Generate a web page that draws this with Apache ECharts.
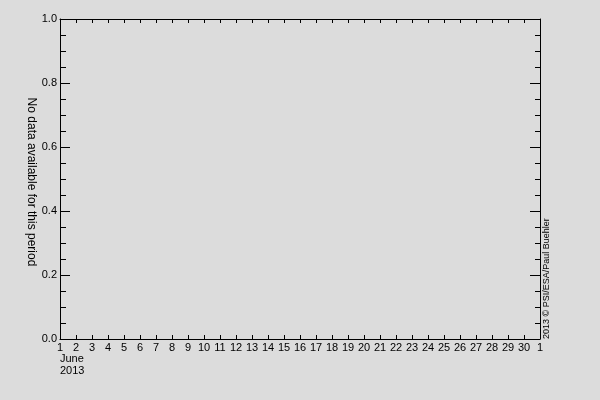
<!DOCTYPE html>
<html>
<head>
<meta charset="utf-8">
<script src="https://cdn.jsdelivr.net/npm/echarts@6/dist/echarts.min.js"></script>
<style>
  html, body { margin: 0; padding: 0; background: #dcdcdc; }
  #chart { width: 600px; height: 400px; }
</style>
</head>
<body>
<div id="chart"></div>
<script>
// days of June 2013, plus the 1st of July closing the axis
var days = [1, 2, 3, 4, 5, 6, 7, 8, 9, 10, 11, 12, 13, 14, 15, 16, 17, 18, 19, 20,
            21, 22, 23, 24, 25, 26, 27, 28, 29, 30, 31];
var dayLabels = ['1', '2', '3', '4', '5', '6', '7', '8', '9', '10', '11', '12', '13', '14', '15',
                 '16', '17', '18', '19', '20', '21', '22', '23', '24', '25', '26', '27', '28', '29', '30', '1'];
var yTicks = [0.0, 0.2, 0.4, 0.6, 0.8, 1.0];
var seriesValues = []; // nothing to plot for this period

var monthLabel = 'June';
var yearLabel = '2013';
var yName = 'No data available for this period';
var credit = '2013 \u00a9 PSI/ESA/Paul Buehler';

var font = 'Liberation Sans';
var black = '#000';

var chart = echarts.init(document.getElementById('chart'));

var baseX = {
    type: 'value',
    min: days[0],
    max: days[days.length - 1],
    interval: 1,
    axisLine: { show: true, onZero: false, lineStyle: { color: black, width: 1 } },
    axisTick: { show: true, inside: true, length: 4, lineStyle: { color: black } },
    splitLine: { show: false }
};

var baseY = {
    type: 'value',
    min: yTicks[0],
    max: yTicks[yTicks.length - 1],
    interval: 0.2,
    axisLine: { show: true, onZero: false, lineStyle: { color: black, width: 1 } },
    axisTick: { show: true, inside: true, length: 10, lineStyle: { color: black } },
    minorTick: { show: true, splitNumber: 4, length: 6, lineStyle: { color: black } },
    splitLine: { show: false }
};

var option = {
    backgroundColor: '#dcdcdc',
    animation: false,
    grid: { left: 60, right: 60, top: 19, bottom: 61 },
    xAxis: [
        Object.assign({}, baseX, {
            position: 'bottom',
            axisLabel: {
                color: black, fontFamily: font, fontSize: 11, margin: 3,
                formatter: function (v) { return dayLabels[days.indexOf(v)]; }
            }
        }),
        Object.assign({}, baseX, {
            position: 'top',
            axisLabel: { show: false }
        })
    ],
    yAxis: [
        Object.assign({}, baseY, {
            position: 'left',
            axisLabel: {
                color: black, fontFamily: font, fontSize: 11, margin: 3,
                formatter: function (v) { return v.toFixed(1); }
            }
        }),
        Object.assign({}, baseY, {
            position: 'right',
            minorTick: { show: true, splitNumber: 4, length: 5, lineStyle: { color: black } },
            axisLabel: { show: false }
        })
    ],
    graphic: [
        // y axis title, reading downwards
        {
            type: 'text', x: 31, y: 182, rotation: -Math.PI / 2,
            style: { text: yName, fill: black, font: '12px ' + font, align: 'center', verticalAlign: 'middle' }
        },
        {
            type: 'text', left: 60, top: 353,
            style: { text: monthLabel + '\n' + yearLabel, fill: black, font: '11px ' + font, lineHeight: 12 }
        },
        {
            type: 'text', x: 547, y: 339, rotation: Math.PI / 2,
            style: { text: credit, fill: black, font: '9px ' + font, align: 'left', verticalAlign: 'middle' }
        }
    ],
    series: [
        { type: 'line', data: seriesValues, xAxisIndex: 0, yAxisIndex: 0 }
    ]
};

chart.setOption(option);
</script>
</body>
</html>
